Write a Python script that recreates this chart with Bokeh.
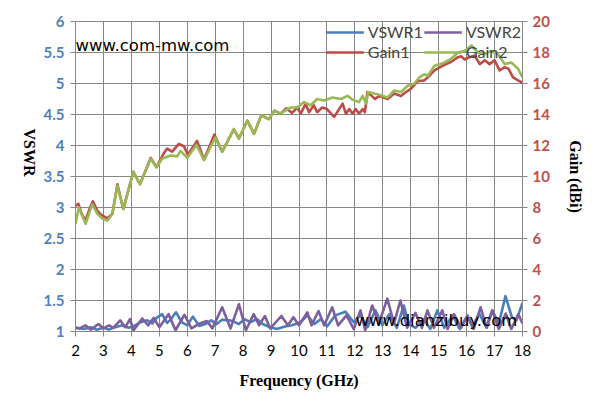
from bokeh.plotting import figure
from bokeh.models import (Range1d, LinearAxis, FixedTicker, NumeralTickFormatter,
                          Legend, LegendItem, Label)
from bokeh.embed import file_html
from bokeh.resources import INLINE

# ---------------- data ----------------
freq_ticks = list(range(2, 19))
vswr_ticks = [1, 1.5, 2, 2.5, 3, 3.5, 4, 4.5, 5, 5.5, 6]
gain_ticks = [0, 2, 4, 6, 8, 10, 12, 14, 16, 18, 20]

f_vswr1 = [2.0, 2.3, 2.55, 2.75, 3.0, 3.2, 3.43, 3.67, 3.9, 4.1,
           4.33, 4.57, 4.75, 4.9, 5.1, 5.28, 5.42, 5.6, 5.8, 6.0,
           6.2, 6.43, 6.65, 6.86, 7.05, 7.25, 7.5, 7.67, 7.85, 8.05,
           8.25, 8.5, 8.7, 8.9, 9.2, 9.5, 9.75, 10.05, 10.3, 10.55,
           10.78, 11.0, 11.3, 11.66, 11.96, 12.2, 12.45, 12.74, 12.98, 13.23,
           13.5, 13.75, 13.93, 14.17, 14.47, 14.7, 14.95, 15.2, 15.5, 15.75,
           16.03, 16.2, 16.45, 16.7, 16.92, 17.15, 17.39, 17.62, 17.78, 18.0]
vswr1 = [1.06, 1.04, 1.07, 1.03, 1.06, 1.03, 1.07, 1.1, 1.06, 1.09,
         1.15, 1.18, 1.13, 1.22, 1.28, 1.14, 1.2, 1.31, 1.15, 1.1,
         1.24, 1.09, 1.12, 1.18, 1.12, 1.19, 1.18, 1.16, 1.12, 1.2,
         1.15, 1.2, 1.12, 1.08, 1.04, 1.08, 1.1, 1.15, 1.26, 1.12,
         1.2, 1.08, 1.26, 1.32, 1.15, 1.26, 1.07, 1.34, 1.1, 1.28,
         1.06, 1.42, 1.12, 1.06, 1.2, 1.04, 1.34, 1.06, 1.26, 1.04,
         1.26, 1.08, 1.29, 1.07, 1.34, 1.12, 1.57, 1.23, 1.18, 1.46]

f_vswr2 = [2.0, 2.15, 2.36, 2.55, 2.82, 3.0, 3.2, 3.35, 3.6, 3.78,
           3.95, 4.08, 4.39, 4.6, 4.8, 5.0, 5.33, 5.58, 5.9, 6.15,
           6.4, 6.7, 6.9, 7.25, 7.55, 7.85, 8.1, 8.38, 8.57, 8.78,
           8.97, 9.37, 9.6, 9.8, 10.0, 10.3, 10.45, 10.7, 10.9, 11.19,
           11.4, 11.7, 11.96, 12.2, 12.37, 12.62, 12.86, 13.16, 13.4, 13.63,
           13.87, 14.17, 14.4, 14.6, 14.83, 15.13, 15.32, 15.55, 15.8, 16.03,
           16.25, 16.5, 16.72, 16.92, 17.15, 17.4, 17.6, 17.85, 18.0]
vswr2 = [1.06, 1.05, 1.1, 1.03, 1.12, 1.05, 1.1, 1.06, 1.18, 1.07,
         1.2, 1.02, 1.21, 1.1, 1.22, 1.07, 1.28, 1.02, 1.27, 1.05,
         1.12, 1.17, 1.05, 1.39, 1.05, 1.44, 1.02, 1.28, 1.1, 1.25,
         1.05, 1.25, 1.1, 1.23, 1.1, 1.31, 1.1, 1.33, 1.1, 1.39,
         1.1, 1.26, 1.04, 1.34, 1.02, 1.42, 1.13, 1.53, 1.13, 1.5,
         1.06, 1.3, 1.06, 1.34, 1.06, 1.34, 1.04, 1.28, 1.06, 1.25,
         1.04, 1.39, 1.06, 1.34, 1.04, 1.29, 1.04, 1.28, 1.13]

f_gain1 = [2.0, 2.1, 2.22, 2.36, 2.5, 2.62, 2.78, 2.9, 3.0, 3.14,
           3.32, 3.5, 3.71, 4.07, 4.31, 4.69, 4.9, 5.16, 5.28, 5.46,
           5.7, 5.88, 6.02, 6.35, 6.6, 6.97, 7.25, 7.67, 7.85, 8.15,
           8.39, 8.65, 8.92, 9.12, 9.33, 9.55, 9.75, 9.94, 10.06, 10.24,
           10.36, 10.53, 10.65, 10.83, 11.0, 11.26, 11.56, 11.68, 11.8, 11.92,
           12.03, 12.15, 12.28, 12.36, 12.45, 12.6, 12.72, 12.87, 13.17, 13.41,
           13.65, 13.83, 14.0, 14.25, 14.49, 14.61, 14.85, 15.15, 15.45, 15.69,
           15.81, 15.93, 16.1, 16.29, 16.47, 16.65, 16.82, 17.0, 17.18, 17.36,
           17.5, 17.66, 17.84, 18.0]
gain1 = [8.1, 8.25, 7.6, 7.15, 7.9, 8.4, 7.8, 7.55, 7.45, 7.3,
         7.6, 9.5, 7.9, 10.3, 9.5, 11.2, 10.6, 11.5, 11.8, 11.6,
         12.1, 11.95, 11.4, 12.3, 11.1, 12.7, 11.6, 13.05, 12.45, 13.6,
         12.75, 13.95, 13.7, 14.25, 14.05, 14.4, 14.1, 14.45, 14.05, 14.7,
         14.15, 14.6, 14.15, 14.45, 14.35, 13.85, 14.7, 14.05, 14.35, 14.05,
         14.35, 14.05, 14.35, 14.15, 15.45, 15.2, 15.0, 15.2, 15.0, 15.35,
         15.2, 15.45, 15.65, 16.15, 16.2, 16.4, 16.85, 17.15, 17.4, 17.7,
         17.75, 17.55, 17.7, 17.8, 17.25, 17.5, 17.25, 17.5, 16.85, 17.05,
         16.95, 16.4, 16.2, 16.05]

f_gain2 = [2.0, 2.12, 2.36, 2.6, 2.78, 2.95, 3.14, 3.32, 3.5, 3.71,
           4.07, 4.31, 4.69, 4.9, 5.1, 5.4, 5.64, 5.76, 6.0, 6.33,
           6.6, 7.0, 7.25, 7.67, 7.85, 8.15, 8.39, 8.65, 8.92, 9.12,
           9.33, 9.69, 9.94, 10.18, 10.42, 10.65, 10.9, 11.2, 11.5, 11.74,
           11.92, 12.15, 12.28, 12.4, 12.48, 12.81, 13.17, 13.41, 13.65, 13.89,
           14.13, 14.31, 14.49, 14.61, 14.85, 15.15, 15.45, 15.69, 15.93, 16.17,
           16.41, 16.65, 16.88, 17.12, 17.36, 17.6, 17.84, 18.0]
gain2 = [6.95, 8.0, 6.95, 8.2, 7.6, 7.3, 7.15, 7.6, 9.4, 7.9,
         10.3, 9.5, 11.15, 10.6, 11.15, 11.35, 11.3, 11.65, 11.2, 12.05,
         11.05, 12.5, 11.6, 13.05, 12.45, 13.6, 12.75, 13.95, 13.7, 14.25,
         14.05, 14.45, 14.45, 14.8, 14.6, 15.0, 14.9, 15.1, 15.0, 15.2,
         14.95, 14.8, 15.2, 14.7, 15.45, 15.3, 15.1, 15.55, 15.45, 15.85,
         16.0, 16.4, 16.6, 16.5, 17.15, 17.3, 17.6, 18.0, 18.1, 18.45,
         18.0, 17.9, 18.1, 17.9, 17.25, 17.35, 16.95, 16.4]

# ---------------- styles ----------------
GRID = "#878787"
C_V1, C_V2, C_G1, C_G2 = "#4A7EBB", "#7D5FA0", "#BE4B48", "#98B954"
TICK_FONT = "Lato"
LABEL_FONT = "Liberation Serif"

p = figure(width=587, height=407, x_range=Range1d(2, 18), y_range=Range1d(1, 6),
           output_backend="svg", toolbar_location=None,
           min_border_left=75, min_border_right=65, min_border_top=21, min_border_bottom=76)
p.extra_y_ranges = {"gain": Range1d(0, 20)}
p.outline_line_color = GRID
p.background_fill_color = "white"
p.border_fill_color = "white"

xa = p.xaxis[0]
xa.ticker = FixedTicker(ticks=freq_ticks)
xa.axis_label = "Frequency (GHz)"
ya = p.yaxis[0]
ya.ticker = FixedTicker(ticks=vswr_ticks)
ya.formatter = NumeralTickFormatter(format="0.[0]")
ya.axis_label = "VSWR"
ga = LinearAxis(y_range_name="gain", ticker=FixedTicker(ticks=gain_ticks), axis_label="Gain (dBi)")
p.add_layout(ga, "right")

for ax in (xa, ya, ga):
    ax.axis_line_color = GRID
    ax.major_tick_line_color = GRID
    ax.major_tick_out = 5
    ax.major_tick_in = 0
    ax.minor_tick_line_color = None
    ax.major_label_text_font = TICK_FONT
    ax.major_label_text_font_size = "15px"
    ax.axis_label_text_font = LABEL_FONT
    ax.axis_label_text_font_style = "bold"
    ax.axis_label_text_font_size = "16px"
    ax.axis_label_text_color = "black"

xa.major_label_text_color = "black"
xa.major_label_standoff = 8
xa.axis_label_standoff = 13
ya.major_label_text_color = "#4F81BD"
ya.major_label_text_font_style = "bold"
ya.major_label_standoff = 6
ya.axis_label_standoff = 11
ga.major_label_text_color = "#C0504D"
ga.major_label_text_font_style = "bold"
ga.major_label_standoff = 5
ga.axis_label_standoff = 14
try:
    ya.axis_label_orientation = -1.5707963267948966
except Exception:
    pass

p.xgrid.grid_line_color = GRID
p.ygrid.grid_line_color = GRID

lw = 2.6
r1 = p.line(f_vswr1, vswr1, line_color=C_V1, line_width=lw, line_join="round")
r2 = p.line(f_vswr2, vswr2, line_color=C_V2, line_width=lw, line_join="round")
r3 = p.line(f_gain1, gain1, line_color=C_G1, line_width=lw, line_join="round", y_range_name="gain")
r4 = p.line(f_gain2, gain2, line_color=C_G2, line_width=lw, line_join="round", y_range_name="gain")

legend = Legend(items=[LegendItem(label="VSWR1", renderers=[r1]),
                       LegendItem(label="VSWR2", renderers=[r2]),
                       LegendItem(label="Gain1", renderers=[r3]),
                       LegendItem(label="Gain2", renderers=[r4])],
                location="top_right", orientation="horizontal", ncols=2,
                background_fill_alpha=0, border_line_alpha=0,
                label_text_font=TICK_FONT, label_text_font_size="16px",
                glyph_width=38, glyph_height=16, label_height=16, label_standoff=4,
                spacing=1, padding=0, margin=1, label_text_line_height=1.0)
p.add_layout(legend)

p.add_layout(Label(x=2.0, y=5.61, text="www.com-mw.com", text_font="DejaVu Sans",
                   text_font_size="16.5px", text_color="black", text_baseline="alphabetic"))
p.add_layout(Label(x=12.02, y=1.18, text="www.dianzibuy.com", text_font="DejaVu Sans",
                   text_font_size="16.5px", text_color="black", text_baseline="alphabetic"))

open("out.html", "w").write(file_html(p, INLINE))
